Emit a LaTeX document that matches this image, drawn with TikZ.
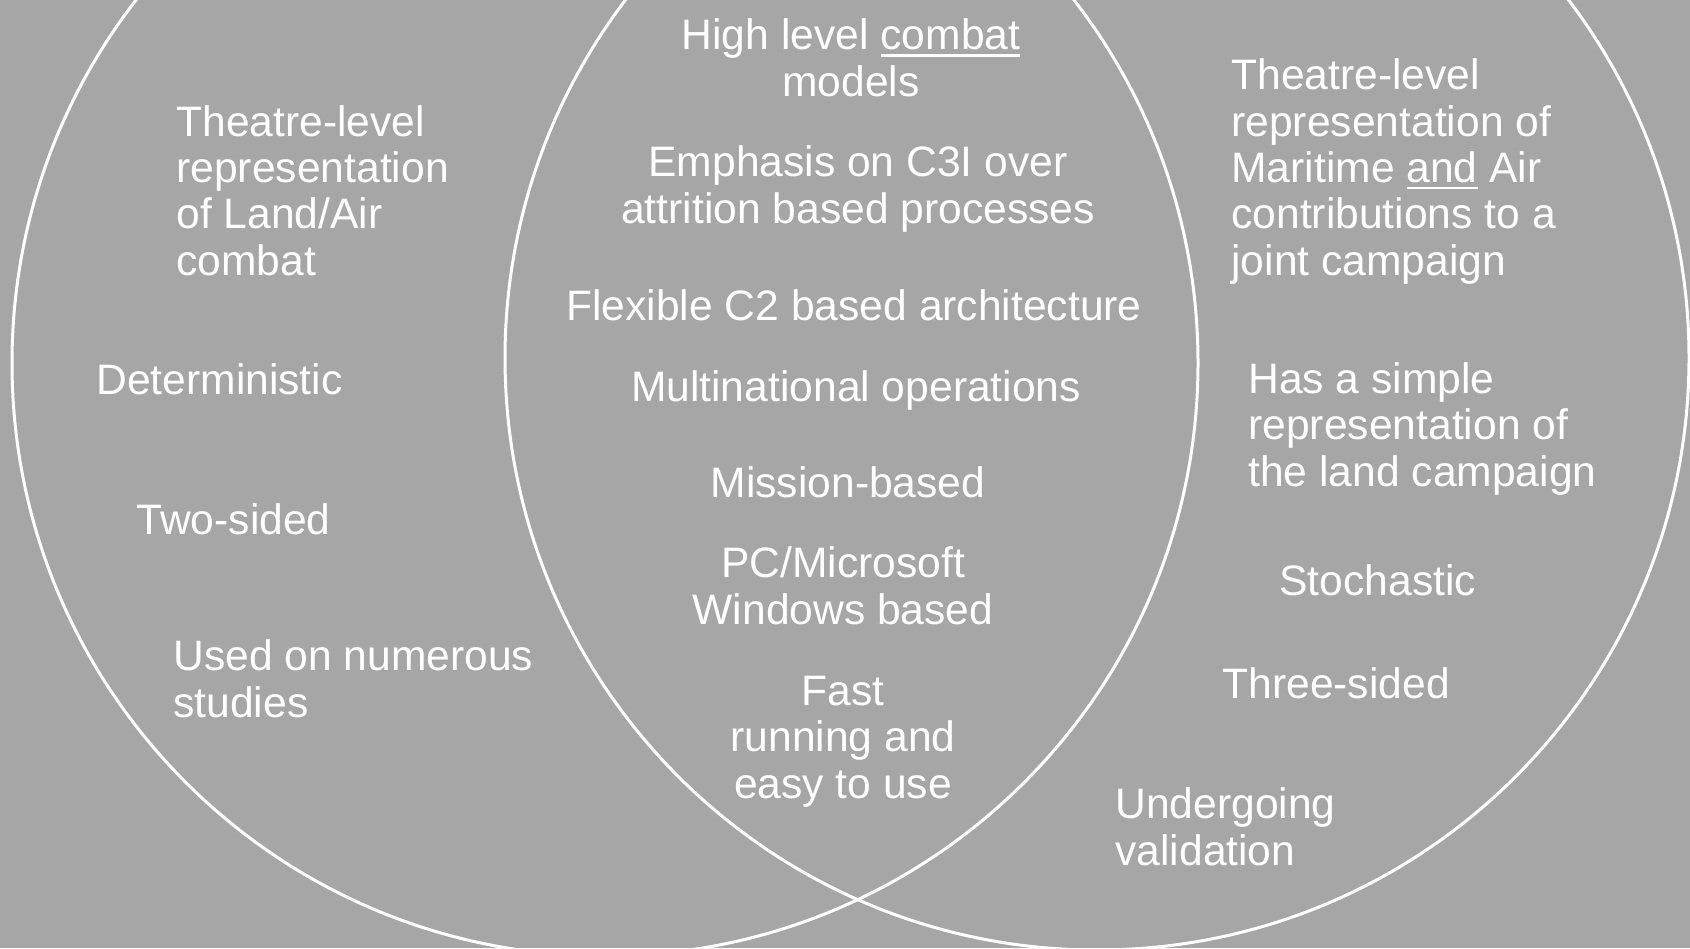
\documentclass[tikz,border=0pt]{standalone}
\usepackage{fontspec}
\setmainfont{Liberation Sans}
\usepackage{tikz}
\definecolor{slide}{RGB}{166,166,166}
\newbox\ulbox
\newcommand{\ulword}[1]{\setbox\ulbox=\hbox{#1}\rlap{\rule[-3.4pt]{\wd\ulbox}{1.2pt}}\box\ulbox}

\begin{document}
\begin{tikzpicture}[x=0.5pt,y=-0.5pt,
  ring/.style={draw=white,line width=1.5pt},
  txt/.style={text=white,inner sep=0pt,font=\fontsize{21.3pt}{23.15pt}\selectfont},
  lft/.style={txt,anchor=base west,align=left},
  mid/.style={txt,anchor=base,align=center}]
\fill[slide] (0,0) rectangle (1690,948);
\useasboundingbox (0,0) rectangle (1690,948);
\clip (0,0) rectangle (1690,948);
\draw[ring] (605,363) circle [radius=296.5pt];
\draw[ring] (1097,358) circle [radius=296pt];
% left set (base = last line)
\node[lft] (la) at (176,275) {Theatre-level\\representation\\of Land/Air\\combat};
\node[lft] (det) at (96,394) {Deterministic};
\node[lft] (two) at (136,534) {Two-sided};
\node[lft] (used) at (173,717) {Used on numerous\\studies};
% overlap
\node[mid] (hl) at (851,96) {High level \ulword{combat}\\models};
\node[mid] (emph) at (858,223) {Emphasis on C3I over\\attrition based processes};
\node[mid] (flex) at (854,320) {Flexible C2 based architecture};
\node[mid] (multi) at (856,401) {Multinational operations};
\node[mid] (miss) at (848,497) {Mission-based};
\node[mid] (pc) at (843,624) {PC/Microsoft\\Windows based};
\node[mid] (fast) at (843,798) {Fast\\running and\\easy to use};
% right set
\node[lft] (ma) at (1231,275) {Theatre-level\\representation of\\Maritime \ulword{and} Air\\contributions to a\\joint campaign};
\node[lft] (simple) at (1248,486) {Has a simple\\representation of\\the land campaign};
\node[lft] (sto) at (1279,595) {Stochastic};
\node[lft] (three) at (1222,698) {Three-sided};
\node[lft] (und) at (1115,865) {Undergoing\\validation};
\end{tikzpicture}
\end{document}
